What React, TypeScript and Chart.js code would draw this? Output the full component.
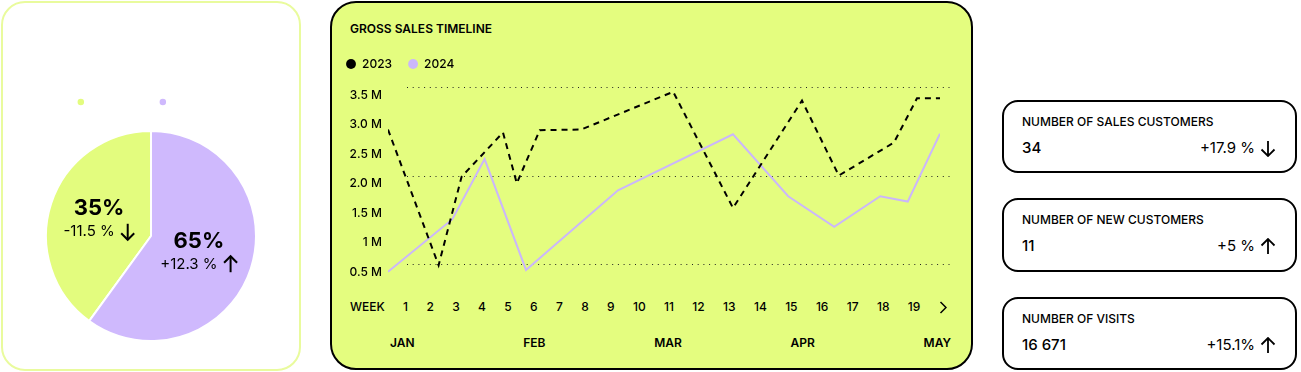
import React, { useEffect, useRef } from 'react';
import { Chart, registerables } from 'chart.js';

Chart.register(...registerables);

// ---------- data ----------
const PIE_LABELS = ['Last year', 'This year'];
const PIE_VALUES = [40, 60];
const PIE_COLORS = ['#e3fc7e', '#cfb9fd'];
const PIE_SHARE_TEXT = ['35%', '65%'];
const PIE_CHANGE_TEXT = ['-11.5 %', '+12.3 %'];
const PIE_CHANGE_DIR = ['down', 'up'];

const SERIES_LABELS = ['2023', '2024'];
const SERIES_COLORS = ['#000000', '#cbb7fa'];
const DAYS_2023 = [0, 11, 16, 25, 28, 33, 42, 62, 75, 90, 98, 110, 115, 120];
const SALES_2023 = [2.78, 0.48, 1.98, 2.73, 1.87, 2.77, 2.78, 3.42, 1.45, 3.27, 2.0, 2.56, 3.31, 3.31];
const DAYS_2024 = [0, 14, 21, 30, 50, 75, 87, 97, 107, 113, 120];
const SALES_2024 = [0.37, 1.26, 2.28, 0.4, 1.75, 2.7, 1.65, 1.13, 1.65, 1.56, 2.71];
const Y_TICKS = [0.5, 1, 1.5, 2, 2.5, 3, 3.5];
const Y_TICK_LABELS = ['0.5 M', '1 M', '1.5 M', '2.0 M', '2.5 M', '3.0 M', '3.5 M'];
const GRID_VALUES = [0.5, 2, 3.5];
const WEEKS = ['1', '2', '3', '4', '5', '6', '7', '8', '9', '10', '11', '12', '13', '14', '15', '16', '17', '18', '19'];
const MONTHS = ['JAN', 'FEB', 'MAR', 'APR', 'MAY'];

const KPI_TITLES = ['NUMBER OF SALES CUSTOMERS', 'NUMBER OF NEW CUSTOMERS', 'NUMBER OF VISITS'];
const KPI_VALUES = ['34', '11', '16 671'];
const KPI_CHANGES = ['+17.9 %', '+5 %', '+15.1%'];
const KPI_DIRS = ['down', 'up', 'up'];

const FONT = 'Inter, "Noto Sans", sans-serif';
const LIME = '#e4fd7f';

function drawArrow(ctx: CanvasRenderingContext2D, cx: number, cy: number, dir: string) {
  const h = 8;
  const w = 6.5;
  ctx.save();
  ctx.strokeStyle = '#000';
  ctx.lineWidth = 2;
  ctx.lineCap = 'butt';
  ctx.lineJoin = 'miter';
  ctx.beginPath();
  ctx.moveTo(cx, cy - h);
  ctx.lineTo(cx, cy + h);
  ctx.stroke();
  ctx.beginPath();
  if (dir === 'down') {
    ctx.moveTo(cx - w, cy + h - w);
    ctx.lineTo(cx, cy + h);
    ctx.lineTo(cx + w, cy + h - w);
  } else {
    ctx.moveTo(cx - w, cy - h + w);
    ctx.lineTo(cx, cy - h);
    ctx.lineTo(cx + w, cy - h + w);
  }
  ctx.stroke();
  ctx.restore();
}

const pieLabelPlugin = {
  id: 'pieLabels',
  afterDatasetsDraw(chart: any) {
    const ctx: CanvasRenderingContext2D = chart.ctx;
    const meta = chart.getDatasetMeta(0);
    meta.data.forEach((arc: any, i: number) => {
      const { x, y } = arc.getCenterPoint();
      ctx.save();
      ctx.fillStyle = '#000';
      ctx.textBaseline = 'middle';
      ctx.textAlign = 'center';
      ctx.font = `700 22px ${FONT}`;
      ctx.fillText(PIE_SHARE_TEXT[i], x - 2, y - 11);
      ctx.font = `400 15px ${FONT}`;
      const t = PIE_CHANGE_TEXT[i];
      const tw = ctx.measureText(t).width;
      const aw = 14;
      const gap = 6;
      const left = x - 2 - (tw + gap + aw) / 2;
      ctx.textAlign = 'left';
      ctx.fillText(t, left, y + 12);
      drawArrow(ctx, left + tw + gap + aw / 2, y + 12, PIE_CHANGE_DIR[i]);
      ctx.restore();
    });
  },
};

const dottedGridPlugin = {
  id: 'dottedGrid',
  beforeDatasetsDraw(chart: any) {
    const { ctx, chartArea, scales } = chart;
    const y = scales.y;
    ctx.save();
    ctx.strokeStyle = '#222';
    ctx.lineWidth = 1;
    ctx.setLineDash([1, 4.7]);
    GRID_VALUES.forEach((v) => {
      const py = Math.round(y.getPixelForValue(v)) + 0.5;
      ctx.beginPath();
      ctx.moveTo(chartArea.left + 19, py);
      ctx.lineTo(chartArea.right + 12, py);
      ctx.stroke();
    });
    ctx.restore();
  },
};

function ArrowIcon({ dir }: { dir: string }) {
  const d = dir === 'down' ? 'M8 1 V16 M1.5 9.5 L8 16 L14.5 9.5' : 'M8 16 V1 M1.5 7.5 L8 1 L14.5 7.5';
  return (
    <svg width="16" height="17" viewBox="0 0 16 17" style={{ display: 'block', marginLeft: 5 }}>
      <path d={d} fill="none" stroke="#000" strokeWidth="1.8" />
    </svg>
  );
}

export default function App() {
  const pieRef = useRef<HTMLCanvasElement>(null);
  const lineRef = useRef<HTMLCanvasElement>(null);

  useEffect(() => {
    Chart.defaults.font.family = FONT;
    const pie = new Chart(pieRef.current as HTMLCanvasElement, {
      type: 'pie',
      data: {
        labels: PIE_LABELS,
        datasets: [
          {
            data: PIE_VALUES,
            backgroundColor: PIE_COLORS,
            borderColor: '#ffffff',
            borderWidth: 2,
          },
        ],
      },
      options: {
        responsive: false,
        animation: false,
        rotation: 216,
        layout: { padding: 0 },
        plugins: {
          legend: {
            position: 'top',
            labels: {
              usePointStyle: true,
              pointStyle: 'circle',
              boxWidth: 10,
              boxHeight: 6,
              padding: 14,
              color: '#ffffff',
              font: { size: 12, family: FONT },
            },
          },
          tooltip: { enabled: false },
        },
      },
      plugins: [pieLabelPlugin],
    } as any);

    const line = new Chart(lineRef.current as HTMLCanvasElement, {
      type: 'line',
      data: {
        datasets: [
          {
            label: SERIES_LABELS[0],
            data: DAYS_2023.map((d, i) => ({ x: d, y: SALES_2023[i] })),
            borderColor: SERIES_COLORS[0],
            backgroundColor: SERIES_COLORS[0],
            borderWidth: 2,
            borderDash: [6, 5],
            pointRadius: 0,
            tension: 0,
          },
          {
            label: SERIES_LABELS[1],
            data: DAYS_2024.map((d, i) => ({ x: d, y: SALES_2024[i] })),
            borderColor: SERIES_COLORS[1],
            backgroundColor: SERIES_COLORS[1],
            borderWidth: 2,
            pointRadius: 0,
            tension: 0,
          },
        ],
      },
      options: {
        responsive: false,
        animation: false,
        layout: { padding: { left: 0, right: 16, top: 0, bottom: 10 } },
        scales: {
          x: { type: 'linear', min: 0, max: 120, display: false },
          y: {
            min: 0.25,
            max: 3.62,
            afterBuildTicks: (scale: any) => {
              scale.ticks = Y_TICKS.map((v) => ({ value: v }));
            },
            afterFit: (scale: any) => {
              scale.width = 58;
            },
            grid: { display: false, drawTicks: false },
            border: { display: false },
            ticks: {
              padding: 6,
              labelOffset: 8,
              color: '#000',
              font: { size: 12, weight: 500, family: FONT },
              callback: (v: any) => {
                const idx = Y_TICKS.indexOf(Number(v));
                return idx >= 0 ? Y_TICK_LABELS[idx] : '';
              },
            },
          },
        },
        plugins: {
          legend: {
            position: 'top',
            align: 'start',
            labels: {
              usePointStyle: true,
              pointStyle: 'circle',
              boxWidth: 10,
              boxHeight: 7,
              padding: 16,
              color: '#000',
              font: { size: 12, weight: 500, family: FONT },
              generateLabels: (chart: any) => {
                const items = Chart.defaults.plugins.legend.labels.generateLabels(chart);
                return items.map((it: any) => ({ ...it, lineDash: [], lineWidth: 0, strokeStyle: it.fillStyle }));
              },
            },
          },
          tooltip: { enabled: false },
        },
      },
      plugins: [dottedGridPlugin],
    } as any);

    return () => {
      pie.destroy();
      line.destroy();
    };
  }, []);

  const abs = (s: React.CSSProperties): React.CSSProperties => ({ position: 'absolute', ...s });

  return (
    <div style={abs({ left: 0, top: 0, width: 1301, height: 372, overflow: 'hidden', fontFamily: FONT, color: '#000', background: '#fff' })}>
      {/* pie panel */}
      <div style={abs({ left: 1, top: 1, width: 300, height: 370, boxSizing: 'border-box', border: '2px solid #e9fb9d', borderRadius: 24, background: '#fff' })} />
      <canvas ref={pieRef} width={212} height={272} style={abs({ left: 45, top: 82, width: 212, height: 272 })} />

      {/* line chart panel */}
      <div style={abs({ left: 330, top: 1, width: 643, height: 369, boxSizing: 'border-box', border: '2px solid #000', borderRadius: 26, background: LIME })} />
      <div style={abs({ left: 350, top: 21, height: 16, lineHeight: '16px', fontSize: 12, fontWeight: 600, whiteSpace: 'nowrap' })}>GROSS SALES TIMELINE</div>
      <canvas ref={lineRef} width={626} height={250} style={abs({ left: 330, top: 42, width: 626, height: 250 })} />
      <div style={abs({ left: 350, top: 299, width: 597, height: 16, display: 'flex', justifyContent: 'space-between', alignItems: 'center', fontSize: 12, fontWeight: 500, lineHeight: '16px' })}>
        <span>WEEK</span>
        {WEEKS.map((w) => (
          <span key={w}>{w}</span>
        ))}
        <svg width="8" height="13" viewBox="0 0 8 13" style={{ display: 'block' }}>
          <path d="M1.5 1 L7 6.5 L1.5 12" fill="none" stroke="#000" strokeWidth="1.5" />
        </svg>
      </div>
      <div style={abs({ left: 390, top: 335, width: 561, height: 16, display: 'flex', justifyContent: 'space-between', alignItems: 'center', fontSize: 12, fontWeight: 600, lineHeight: '16px' })}>
        {MONTHS.map((m) => (
          <span key={m}>{m}</span>
        ))}
      </div>

      {/* KPI cards */}
      {KPI_TITLES.map((t, i) => (
        <div
          key={t}
          style={abs({
            left: 1002,
            top: [100, 198, 297][i],
            width: 295,
            height: [73, 74, 73][i],
            boxSizing: 'border-box',
            border: '2px solid #000',
            borderRadius: 16,
            background: '#fff',
            padding: '12px 19px 0 18px',
          })}
        >
          <div style={{ fontSize: 12, fontWeight: 500, lineHeight: '16px', whiteSpace: 'nowrap' }}>{t}</div>
          <div style={{ marginTop: 8, height: 20, display: 'flex', justifyContent: 'space-between', alignItems: 'center', fontSize: 15, fontWeight: 500, lineHeight: '20px' }}>
            <span>{KPI_VALUES[i]}</span>
            <span style={{ display: 'flex', alignItems: 'center', fontWeight: 400 }}>
              <span>{KPI_CHANGES[i]}</span>
              <ArrowIcon dir={KPI_DIRS[i]} />
            </span>
          </div>
        </div>
      ))}
    </div>
  );
}
